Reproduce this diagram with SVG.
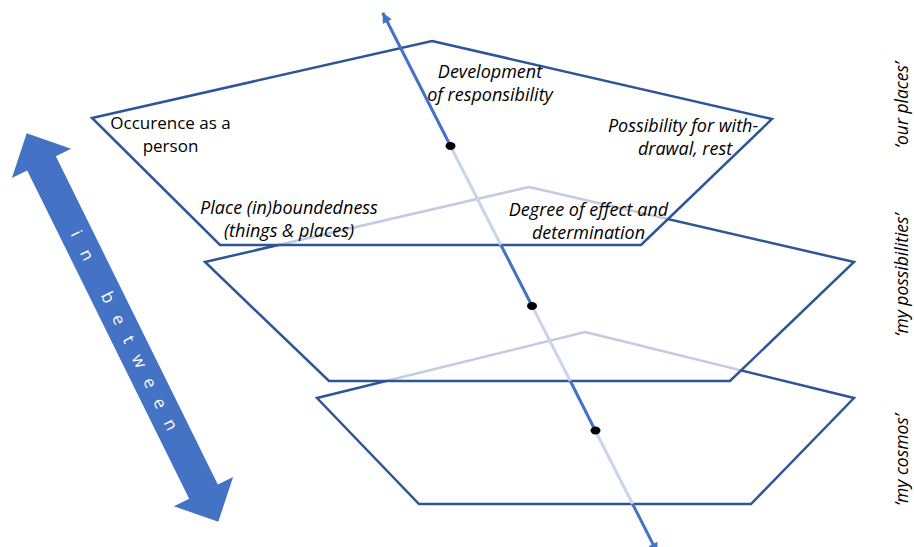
<svg xmlns="http://www.w3.org/2000/svg" width="914" height="547" viewBox="0 0 914 547">
  <defs>
    <style>
      .plane { fill: #ffffff; fill-opacity: 0.7; stroke: #2F5597; stroke-width: 2.5; stroke-linejoin: miter; }
      .lbl { font-family: "Open Sans", "Noto Sans", "DejaVu Sans", sans-serif; font-size: 17px; fill: #000000; text-anchor: middle; }
      .it { font-style: italic; font-size: 18px; }
      .side { font-family: "Open Sans", "Noto Sans", "DejaVu Sans", sans-serif; font-size: 17.5px; font-style: italic; fill: #000000; text-anchor: middle; }
      .axis { fill: none; stroke: #4472C4; stroke-width: 3; }
      .axis-hidden { fill: none; stroke: #C7D5ED; stroke-width: 3; }
      .dot { fill: #000000; }
      .band { fill: #4472C4; }
      .band-text { font-family: "Open Sans", "Noto Sans", "DejaVu Sans", sans-serif; font-size: 17px; fill: #ffffff; text-anchor: middle; }
    </style>
    <marker id="tip" viewBox="0 0 10 10" refX="10" refY="5" markerUnits="userSpaceOnUse" markerWidth="12" markerHeight="10" orient="auto-start-reverse">
      <path d="M0,0 L10,5 L0,10 Z" fill="#4472C4"/>
    </marker>
  </defs>

  <!-- double-headed "in between" band -->
  <g id="in-between" transform="translate(26.7,133.3) rotate(63.74)">
    <path class="band" d="M0,0 L33.5,-33 L33.5,-16 L399.6,-16 L399.6,-33 L433.1,0 L399.6,33 L399.6,16 L33.5,16 L33.5,33 Z"/>
    <text class="band-text" x="111.7 135.8 159.7 183.2 207.8 230 254.3 278.4 301 325" y="5.5">in between</text>
  </g>

  <!-- lowest plane: my cosmos -->
  <g id="plane-cosmos">
    <path class="plane" d="M585,332 L854,398 L751,504 L419,504 L317,398 Z"/>
  </g>

  <!-- middle plane: my possibilities -->
  <g id="plane-possibilities">
    <path class="plane" d="M529,187 L854,262 L730,381 L329,381 L205,262 Z"/>
  </g>

  <!-- upper plane: our places -->
  <g id="plane-places">
    <path class="plane" d="M432,41 L772,119 L641,245 L220,245 L92,118 Z"/>
    <text class="lbl it"><tspan x="490" y="77.5">Development</tspan><tspan x="490" y="100.5">of responsibility</tspan></text>
    <text class="lbl"><tspan x="170.5" y="128.5">Occurence as a</tspan><tspan x="170.5" y="152">person</tspan></text>
    <text class="lbl it"><tspan x="683" y="132">Possibility for with-</tspan><tspan x="685" y="155">drawal, rest</tspan></text>
    <text class="lbl it"><tspan x="289" y="213.5">Place (in)boundedness</tspan><tspan x="289" y="236.5">(things &amp; places)</tspan></text>
    <text class="lbl it"><tspan x="588.5" y="215.5">Degree of effect and</tspan><tspan x="588.5" y="238.5">determination</tspan></text>
  </g>

  <!-- vertical axis through the three planes; pale parts run beneath a plane -->
  <g id="connectors">
    <path class="axis" d="M450.5,146 L382.7,12.7" marker-end="url(#tip)"/>
    <path class="axis-hidden" d="M450.5,146 L500.9,245"/>
    <path class="axis" d="M500.9,245 L532.1,306"/>
    <path class="axis-hidden" d="M532.1,306 L570.3,381"/>
    <path class="axis" d="M570.3,381 L595,430"/>
    <path class="axis-hidden" d="M595,430 L632.6,504"/>
    <path class="axis" d="M632.6,504 L657.5,553" marker-end="url(#tip)"/>
    <ellipse class="dot" cx="450.5" cy="146" rx="5" ry="4"/>
    <ellipse class="dot" cx="532" cy="306" rx="5" ry="4"/>
    <ellipse class="dot" cx="595.5" cy="430.5" rx="5" ry="4"/>
  </g>

  <!-- plane names along the right edge -->
  <g id="plane-names">
    <text class="side" transform="translate(908,105) rotate(-90)">‘our places’</text>
    <text class="side" transform="translate(908,275) rotate(-90)">‘my possibilities’</text>
    <text class="side" transform="translate(908,460) rotate(-90)">‘my cosmos’</text>
  </g>
</svg>
